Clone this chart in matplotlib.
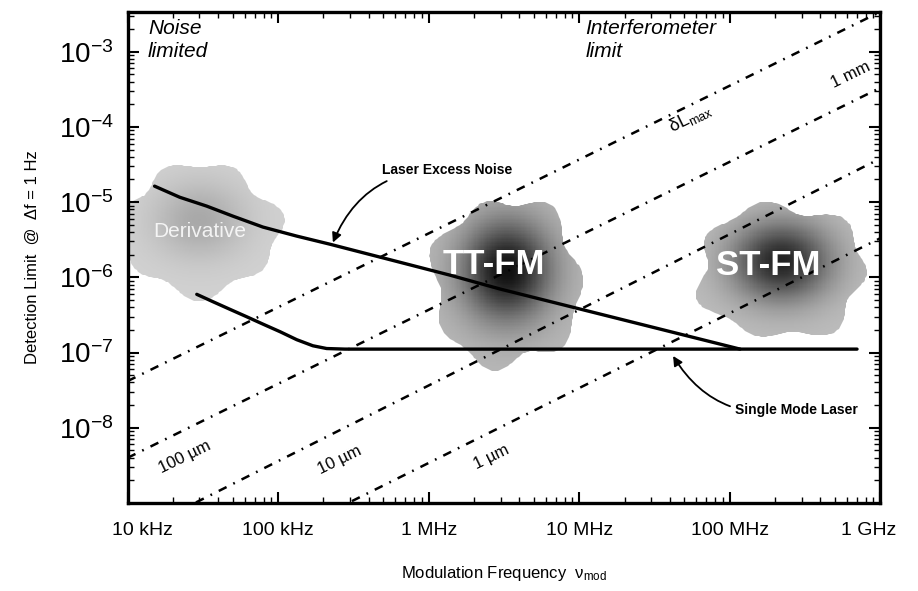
import numpy as np
import matplotlib
matplotlib.use("Agg")
import matplotlib.pyplot as plt
import matplotlib.transforms as mtransforms
from matplotlib.patches import Polygon


# ─── Data ─────────────────────────────────────────────────────────────────────

freq_ticks  = [1e4, 1e5, 1e6, 1e7, 1e8, 1e9]
freq_labels = ["10 kHz", "100 kHz", "1 MHz", "10 MHz", "100 MHz", "1 GHz"]
det_ticks   = [1e-3, 1e-4, 1e-5, 1e-6, 1e-7, 1e-8]
det_labels  = [r"$\mathregular{10^{-%d}}$" % k for k in range(3, 9)]

# Laser excess noise curve
excess_f = [1.51e4, 2.22e4, 3.35e4, 4.99e4, 7.91e4, 1.33e5, 2.20e5,
            1.38e6, 2.97e6, 1.17e8]
excess_y = [1.63e-5, 1.16e-5, 8.85e-6, 6.52e-6, 4.66e-6, 3.53e-6, 2.76e-6,
            1.07e-6, 7.0e-7, 1.11e-7]

# Single mode laser curve
single_f = [2.88e4, 3.67e4, 4.76e4, 6.18e4, 7.91e4, 1.03e5, 1.33e5,
            1.70e5, 2.10e5, 2.78e5, 7.0e8]
single_y = [5.94e-7, 4.76e-7, 3.77e-7, 2.99e-7, 2.39e-7, 1.89e-7, 1.48e-7,
            1.23e-7, 1.13e-7, 1.11e-7, 1.11e-7]

# Interferometer limit lines (value at 10 kHz and at 1 GHz)
dl_labels = ["1 mm", "100 µm", "10 µm", "1 µm"]
dl_f      = [1e4, 1e9]
dl_start  = [10**-7.38, 10**-8.40, 10**-9.45, 10**-10.46]
dl_end    = [10**-2.47, 10**-3.48, 10**-4.42, 10**-5.48]

# Shaded technique regions: centre, half-width (decades) and shade
blob_names  = ["Derivative", "TT-FM", "ST-FM"]
blob_f      = [3.0e4, 3.3e6, 2.2e8]
blob_y      = [4.3e-6, 8.5e-7, 1.2e-6]
blob_wx     = [0.52, 0.49, 0.55]
blob_wy     = [0.85, 1.10, 0.88]
blob_dark   = [0.66, 0.06, 0.14]
blob_light  = [0.82, 0.72, 0.74]


plt.rcParams["font.family"] = ["Liberation Sans", "DejaVu Sans"]
plt.rcParams["mathtext.fontset"] = "custom"
plt.rcParams["mathtext.rm"] = "Liberation Sans"

fig = plt.figure(figsize=(9.18, 5.91), dpi=100)
ax = fig.add_axes([0.139, 0.149, 0.820, 0.831])
ax.set_xscale("log")
ax.set_yscale("log")
ax.set_xlim(1e4, 1e9)
ax.set_ylim(1e-9, 10**-2.47)


# ─── Shaded blobs ─────────────────────────────────────────────────────────────

def draw_blob(ax, i):
    lcx, lcy = np.log10(blob_f[i]), np.log10(blob_y[i])
    wx, wy = blob_wx[i], blob_wy[i]
    th = np.linspace(0, 2 * np.pi, 240)
    wob = 1 + 0.07 * np.sin(7 * th + i) + 0.05 * np.cos(4 * th + 2 * i)
    px = 10 ** (lcx + wx * wob * np.cos(th))
    py = 10 ** (lcy + wy * wob * np.sin(th))
    poly = Polygon(np.column_stack([px, py]), closed=True,
                   facecolor="none", edgecolor="none")
    ax.add_patch(poly)

    gx = np.linspace(lcx - 1.3 * wx, lcx + 1.3 * wx, 160)
    gy = np.linspace(lcy - 1.3 * wy, lcy + 1.3 * wy, 160)
    LX, LY = np.meshgrid(gx, gy)
    d2 = ((LX - lcx) / wx) ** 2 + ((LY - lcy - 0.15 * wy) / wy) ** 2
    shade = blob_light[i] + (blob_dark[i] - blob_light[i]) * np.exp(-d2 / 0.35)
    mesh = ax.pcolormesh(10 ** gx, 10 ** gy, shade, cmap="gray",
                         vmin=0, vmax=1, shading="auto", zorder=1)
    mesh.set_clip_path(poly)


for i in range(len(blob_names)):
    draw_blob(ax, i)

ax.text(blob_f[0], blob_y[0] * 0.95, blob_names[0], color="white",
        fontsize=15, ha="center", va="center", alpha=0.85, zorder=2)
ax.text(2.7e6, 1.5e-6, blob_names[1], color="white", fontsize=25,
        fontweight="bold", ha="center", va="center", zorder=4)
ax.text(1.8e8, 1.45e-6, blob_names[2], color="white", fontsize=25,
        fontweight="bold", ha="center", va="center", zorder=4)


# ─── Lines ────────────────────────────────────────────────────────────────────

for y0, y1 in zip(dl_start, dl_end):
    ax.plot(dl_f, [y0, y1], color="black", lw=1.8,
            linestyle=(0, (3.5, 3.0, 0.7, 3.0)), zorder=3)

ax.plot(excess_f, excess_y, color="black", lw=2.4, zorder=5,
        solid_capstyle="round", solid_joinstyle="round")
ax.plot(single_f, single_y, color="black", lw=2.4, zorder=5,
        solid_capstyle="round", solid_joinstyle="round")


# ─── Annotations ──────────────────────────────────────────────────────────────

ax.annotate("Laser Excess Noise", xy=(2.31e5, 2.9e-6), xytext=(4.9e5, 2.66e-5),
            fontsize=10, fontweight="bold", ha="left", va="center",
            arrowprops=dict(arrowstyle="-|>", color="black", lw=1.3,
                            mutation_scale=14, shrinkA=2, shrinkB=0,
                            connectionstyle="arc3,rad=0.35"), zorder=6)

ax.annotate("Single Mode Laser", xy=(4.2e7, 9.0e-8), xytext=(1.09e8, 1.74e-8),
            fontsize=10, fontweight="bold", ha="left", va="center",
            arrowprops=dict(arrowstyle="-|>", color="black", lw=1.3,
                            mutation_scale=14, shrinkA=2, shrinkB=0,
                            connectionstyle="arc3,rad=-0.35"), zorder=6)

ax.text(0.027, 0.985, "Noise\nlimited", transform=ax.transAxes, fontsize=15,
        style="italic", ha="left", va="top", linespacing=1.25)
ax.text(0.608, 0.985, "Interferometer\nlimit", transform=ax.transAxes,
        fontsize=15, style="italic", ha="left", va="top", linespacing=1.25)

rot = 26
ax.text(10**8.80, 10**-3.31, dl_labels[0], fontsize=12, rotation=rot,
        ha="center", va="center")
ax.text(10**7.74, 10**-3.88, r"δL$_{\mathregular{max}}$", fontsize=13,
        rotation=rot, ha="center", va="center")
ax.text(10**4.38, 10**-8.39, dl_labels[1], fontsize=12, rotation=rot,
        ha="center", va="center")
ax.text(10**5.41, 10**-8.43, dl_labels[2], fontsize=12, rotation=rot,
        ha="center", va="center")
ax.text(10**6.42, 10**-8.39, dl_labels[3], fontsize=12, rotation=rot,
        ha="center", va="center")


# ─── Axes styling ─────────────────────────────────────────────────────────────

ax.set_xticks(freq_ticks)
ax.set_xticklabels(freq_labels, fontsize=14)
ax.set_yticks(det_ticks)
ax.set_yticklabels(det_labels, fontsize=20)
ax.tick_params(which="major", direction="in", length=8, width=1.5,
               top=True, right=True)
ax.tick_params(which="minor", direction="in", length=4, width=1.0,
               top=True, right=True)
ax.tick_params(axis="x", which="major", pad=14)
ax.tick_params(axis="y", which="major", pad=10)
for s in ax.spines.values():
    s.set_linewidth(2.4)

# first and last frequency labels sit a little inward, as in the original
xlabels = ax.get_xticklabels()
for lab, dx in ((xlabels[0], 0.15), (xlabels[-1], -0.12)):
    lab.set_transform(lab.get_transform() +
                      mtransforms.ScaledTranslation(dx, 0, fig.dpi_scale_trans))

ax.set_xlabel(r"Modulation Frequency  $\mathregular{\nu_{mod}}$",
              fontsize=12, labelpad=18)
ax.set_ylabel("Detection Limit  @  Δf = 1 Hz", fontsize=12, labelpad=14)

fig.savefig("out.png", dpi=100)
